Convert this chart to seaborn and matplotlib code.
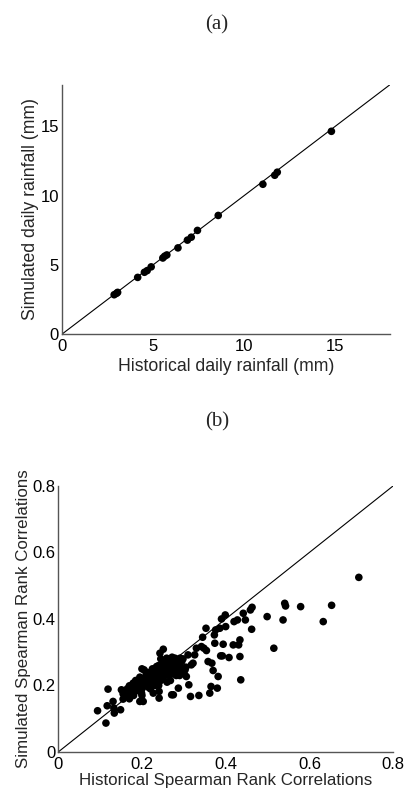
import numpy as np
import pandas as pd
import matplotlib
matplotlib.use("Agg")
import matplotlib.pyplot as plt
import seaborn as sns

# ---- Data (a) ----
hist_rain = [2.87, 3.0, 3.06, 4.16, 4.53, 4.68, 4.9, 5.54, 5.64, 5.76, 6.37, 6.89, 7.1, 7.44,
             8.58, 11.03, 11.68, 11.82, 14.79]
sim_rain = [2.85, 2.95, 3.02, 4.1, 4.47, 4.59, 4.86, 5.5, 5.63, 5.72, 6.23, 6.79, 7.0, 7.49,
            8.57, 10.82, 11.47, 11.69, 14.64]

# ---- Data (b) ----
hist_corr = [0.094, 0.114, 0.119, 0.117, 0.131, 0.134, 0.133, 0.149, 0.151, 0.155, 0.163, 0.170,
             0.175, 0.179, 0.187, 0.195, 0.199, 0.203, 0.205, 0.208, 0.215, 0.223, 0.227, 0.235,
             0.241, 0.241, 0.243, 0.251, 0.247, 0.251, 0.259, 0.263, 0.271, 0.275, 0.279, 0.283,
             0.287, 0.291, 0.295, 0.303, 0.306, 0.310, 0.312, 0.316, 0.318, 0.322, 0.326, 0.330,
             0.336, 0.342, 0.345, 0.348, 0.353, 0.354, 0.358, 0.362, 0.365, 0.367, 0.370, 0.373,
             0.374, 0.376, 0.380, 0.382, 0.386, 0.388, 0.390, 0.392, 0.394, 0.399, 0.400, 0.408,
             0.418, 0.420, 0.428, 0.431, 0.434, 0.434, 0.436, 0.442, 0.447, 0.459, 0.462, 0.463,
             0.499, 0.515, 0.537, 0.541, 0.543, 0.579, 0.633, 0.653, 0.718,
             0.160, 0.165, 0.170, 0.175, 0.180, 0.185, 0.190, 0.190, 0.195, 0.200, 0.200, 0.205,
             0.210, 0.210, 0.215, 0.220, 0.220, 0.225, 0.230, 0.230, 0.235, 0.240, 0.240, 0.245,
             0.250, 0.250, 0.255, 0.260, 0.260, 0.265, 0.270, 0.270, 0.275, 0.280, 0.280, 0.285,
             0.290, 0.290, 0.295, 0.300, 0.250, 0.260, 0.240, 0.220, 0.200, 0.180, 0.170, 0.175,
             0.165, 0.185, 0.195, 0.205, 0.215, 0.225, 0.235, 0.245, 0.255, 0.265, 0.275, 0.285,
             0.255, 0.235, 0.225, 0.210, 0.200, 0.155, 0.160, 0.172, 0.182, 0.192, 0.212, 0.232,
             0.262, 0.272, 0.282, 0.298, 0.305, 0.245, 0.268]
sim_corr = [0.124, 0.087, 0.189, 0.139, 0.152, 0.117, 0.132, 0.127, 0.187, 0.159, 0.177, 0.199,
            0.182, 0.207, 0.192, 0.152, 0.177, 0.152, 0.247, 0.217, 0.232, 0.202, 0.177, 0.257,
            0.162, 0.182, 0.297, 0.309, 0.262, 0.232, 0.282, 0.247, 0.172, 0.172, 0.282, 0.252,
            0.192, 0.282, 0.272, 0.247, 0.227, 0.292, 0.202, 0.167, 0.262, 0.267, 0.292, 0.312,
            0.170, 0.317, 0.345, 0.312, 0.372, 0.305, 0.272, 0.177, 0.197, 0.267, 0.245, 0.352,
            0.327, 0.367, 0.192, 0.227, 0.372, 0.289, 0.400, 0.289, 0.324, 0.412, 0.377, 0.284,
            0.322, 0.392, 0.397, 0.322, 0.287, 0.337, 0.217, 0.417, 0.397, 0.427, 0.369, 0.435,
            0.407, 0.312, 0.397, 0.447, 0.439, 0.437, 0.392, 0.441, 0.525,
            0.180, 0.190, 0.175, 0.200, 0.190, 0.205, 0.195, 0.210, 0.200, 0.210, 0.190, 0.220,
            0.200, 0.230, 0.210, 0.220, 0.240, 0.230, 0.210, 0.250, 0.220, 0.240, 0.260, 0.230,
            0.250, 0.270, 0.240, 0.260, 0.280, 0.250, 0.270, 0.240, 0.260, 0.250, 0.270, 0.240,
            0.260, 0.230, 0.250, 0.240, 0.220, 0.210, 0.200, 0.190, 0.170, 0.170, 0.160, 0.185,
            0.170, 0.215, 0.225, 0.205, 0.195, 0.205, 0.215, 0.215, 0.230, 0.230, 0.235, 0.260,
            0.260, 0.240, 0.250, 0.240, 0.250, 0.175, 0.170, 0.190, 0.180, 0.185, 0.220, 0.200,
            0.275, 0.285, 0.230, 0.280, 0.255, 0.280, 0.215]

df_a = pd.DataFrame({"hist": hist_rain, "sim": sim_rain})
df_b = pd.DataFrame({"hist": hist_corr, "sim": sim_corr})

sns.set_style("white")
plt.rcParams["font.family"] = ["Liberation Sans", "DejaVu Sans"]
plt.rcParams["xtick.direction"] = "in"
plt.rcParams["ytick.direction"] = "in"

fig = plt.figure(figsize=(4.07, 7.92), dpi=100)
ax_a = fig.add_axes([0.152, 0.578, 0.806, 0.315])
ax_b = fig.add_axes([0.143, 0.0505, 0.823, 0.336])

spine_col = "#555555"

def style(ax):
    for s in ["top", "right"]:
        ax.spines[s].set_visible(False)
    for s in ["left", "bottom"]:
        ax.spines[s].set_color(spine_col)
        ax.spines[s].set_linewidth(1.0)
    ax.tick_params(axis="both", which="both", length=3, width=0.8, color=spine_col,
                   labelsize=12, labelcolor="black")
    ax.tick_params(axis="x", pad=3.5)
    ax.tick_params(axis="y", pad=2)

# (a)
ax_a.plot([0, 18], [0, 18], color="black", lw=0.8, zorder=1)
sns.scatterplot(data=df_a, x="hist", y="sim", ax=ax_a, color="black", s=30,
                edgecolor="none", zorder=2, legend=False)
ax_a.set_xlim(0, 18)
ax_a.set_ylim(0, 18)
ax_a.set_xticks([0, 5, 10, 15])
ax_a.set_yticks([0, 5, 10, 15])
ax_a.set_xlabel("Historical daily rainfall (mm)", fontsize=12.7, labelpad=3)
ax_a.set_ylabel("Simulated daily rainfall (mm)", fontsize=12.7, labelpad=1)
style(ax_a)

# (b)
ax_b.plot([0, 0.8], [0, 0.8], color="black", lw=0.8, zorder=1)
sns.scatterplot(data=df_b, x="hist", y="sim", ax=ax_b, color="black", s=30,
                edgecolor="none", zorder=2, legend=False)
ax_b.set_xlim(0, 0.8)
ax_b.set_ylim(0, 0.8)
ax_b.set_xticks([0, 0.2, 0.4, 0.6, 0.8])
ax_b.set_yticks([0, 0.2, 0.4, 0.6, 0.8])
ax_b.set_xticklabels(["0", "0.2", "0.4", "0.6", "0.8"])
ax_b.set_yticklabels(["0", "0.2", "0.4", "0.6", "0.8"])
ax_b.set_xlabel("Historical Spearman Rank Correlations", fontsize=12.2, labelpad=1)
ax_b.set_ylabel("Simulated Spearman Rank Correlations", fontsize=12.2, labelpad=1)
style(ax_b)

fig.text(0.533, 1 - 25 / 792, "(a)", ha="center", va="center", fontsize=15,
         family=["Liberation Serif", "DejaVu Serif"])
fig.text(0.533, 1 - 422 / 792, "(b)", ha="center", va="center", fontsize=15,
         family=["Liberation Serif", "DejaVu Serif"])

fig.savefig("out.png", dpi=100)
